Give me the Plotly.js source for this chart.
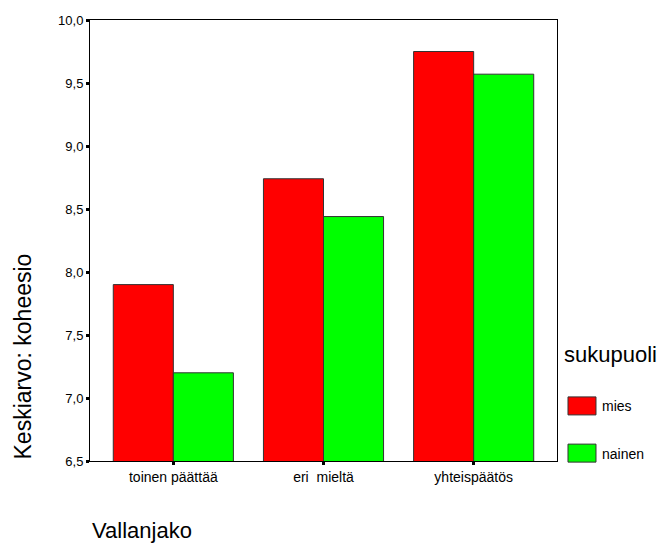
<!DOCTYPE html>
<html>
<head>
<meta charset="utf-8">
<script src="https://cdn.plot.ly/plotly-3.0.1.min.js"></script>
<style>
html, body { margin: 0; padding: 0; background: #fff; }
#chart { width: 659px; height: 543px; }
</style>
</head>
<body>
<div id="chart"></div>
<script>
// Data
const categories = ["toinen päättää", "eri  mieltä", "yhteispäätös"];
const miesValues = [7.90, 8.74, 9.75];
const nainenValues = [7.20, 8.44, 9.57];
const seriesNames = ["mies", "nainen"];
const yTickValues = [6.5, 7.0, 7.5, 8.0, 8.5, 9.0, 9.5, 10.0];
const yAxisTitle = "Keskiarvo: koheesio";
const xAxisTitle = "Vallanjako";
const legendTitle = "sukupuoli";

const FONT = "Liberation Sans, Arial, sans-serif";

const traces = [
  {
    type: "bar", name: seriesNames[0], x: categories, y: miesValues,
    marker: { color: "#ff0000", line: { color: "#333333", width: 1 } },
    legendgroup: "g1", hoverinfo: "skip"
  },
  {
    type: "bar", name: seriesNames[1], x: categories, y: nainenValues,
    marker: { color: "#00ff00", line: { color: "#333333", width: 1 } },
    legendgroup: "g2", hoverinfo: "skip"
  }
];

const layout = {
  width: 659, height: 543,
  margin: { l: 90, r: 102, t: 20, b: 82, pad: 0, autoexpand: false },
  paper_bgcolor: "#ffffff", plot_bgcolor: "#ffffff",
  separators: ",.",
  font: { family: FONT, color: "#000000", size: 14 },
  barmode: "group", bargap: 0.2, bargroupgap: 0,
  showlegend: true,
  legend: {
    x: 1.0107, xanchor: "left", y: 0.29, yanchor: "top",
    title: { text: legendTitle + "<br> ", font: { family: FONT, size: 22, color: "#000" } },
    font: { family: FONT, size: 14, color: "#000" },
    tracegroupgap: 26, bgcolor: "rgba(0,0,0,0)", borderwidth: 0
  },
  xaxis: {
    type: "category", range: [-0.555, 2.555],
    showline: true, linecolor: "#000", linewidth: 1, mirror: true,
    ticks: "outside", ticklen: 3, tickwidth: 3, tickcolor: "#000",
    showgrid: false, zeroline: false,
    tickfont: { family: FONT, size: 14, color: "#000" },
    fixedrange: true
  },
  yaxis: {
    range: [6.5, 10.0], tickvals: yTickValues, tickformat: ".1f",
    showline: true, linecolor: "#000", linewidth: 1, mirror: true,
    ticks: "outside", ticklen: 3, tickwidth: 3, tickcolor: "#000",
    showgrid: false, zeroline: false,
    tickfont: { family: FONT, size: 13, color: "#000" },
    fixedrange: true
  },
  annotations: [
    {
      text: yAxisTitle, xref: "paper", yref: "paper",
      x: -0.1435, y: 0.237, xanchor: "center", yanchor: "middle",
      textangle: -90, showarrow: false,
      font: { family: FONT, size: 23, color: "#000" }
    },
    {
      text: xAxisTitle, xref: "paper", yref: "paper",
      x: 0, y: -0.158, xanchor: "left", yanchor: "middle",
      showarrow: false,
      font: { family: FONT, size: 22, color: "#000" }
    }
  ]
};

Plotly.newPlot("chart", traces, layout, { displayModeBar: false, staticPlot: true }).then(function () {
  document.querySelectorAll("#chart .legendpoints path").forEach(function (p) {
    p.setAttribute("d", "M14,9H-14V-9H14Z");
  });
});
</script>
</body>
</html>
